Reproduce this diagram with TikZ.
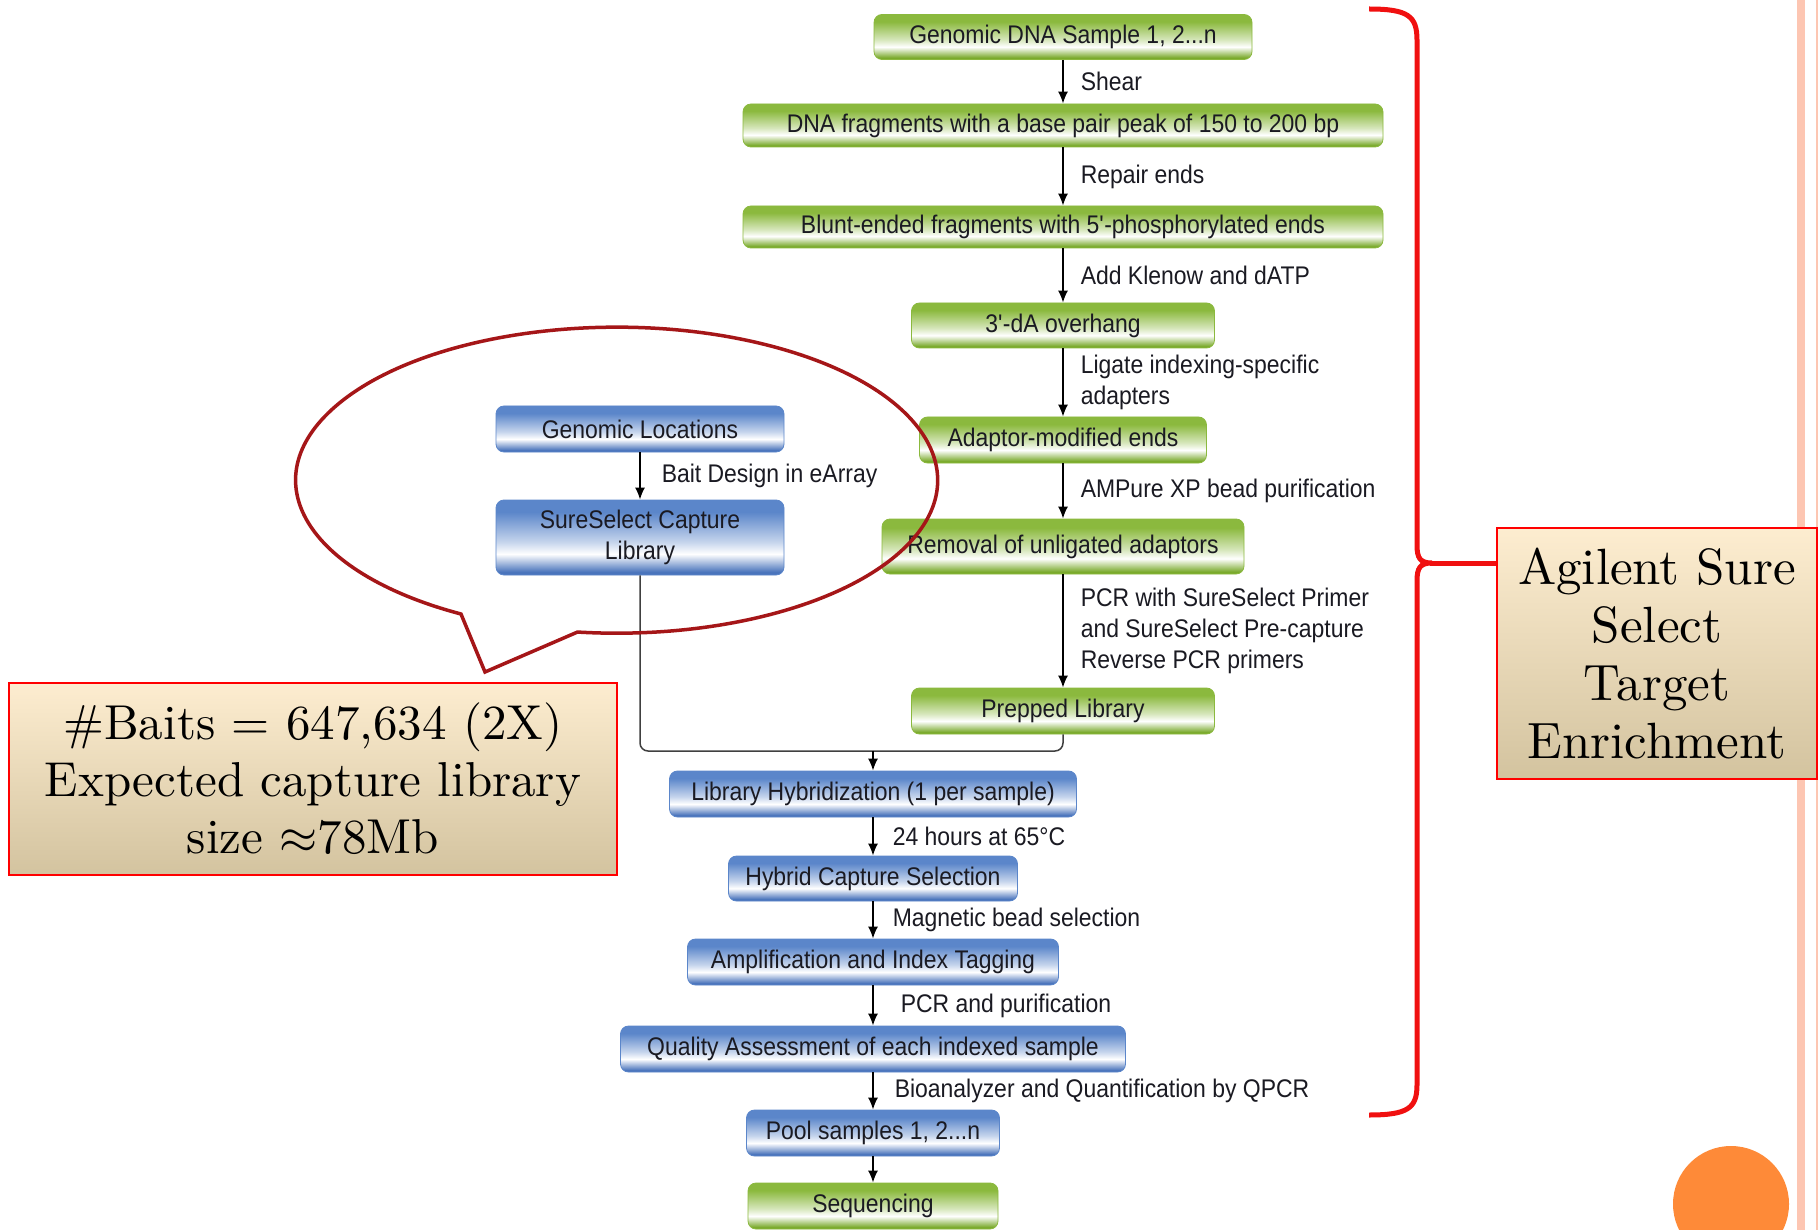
\documentclass[tikz,border=0pt]{standalone}
\usepackage{fontspec}
\newfontfamily\flowfont[FakeStretch=0.9]{Liberation Sans}
\newfontfamily\notefont{lmroman10-regular.otf}
\usetikzlibrary{arrows.meta}
% scalable symbol font for the large approx sign
\DeclareFontShape{OMS}{cmsy}{m}{n}{<-6>cmsy5<6-8>cmsy7<8->cmsy10}{}

\definecolor{gtop}{HTML}{8BB93E}
\definecolor{gbot}{HTML}{7AAA2C}
\colorlet{glight}{gtop!35!white}
\definecolor{btop}{HTML}{5B86CA}
\definecolor{bbot}{HTML}{4A74BC}
\colorlet{blight}{btop!35!white}
\definecolor{txt}{HTML}{1A1A22}
\definecolor{bubblered}{HTML}{A51618}
\definecolor{bracered}{HTML}{F01010}
\definecolor{notetop}{HTML}{FDEDD0}
\definecolor{notemid}{HTML}{F0EADA}
\definecolor{notebot}{HTML}{D3C39F}
\definecolor{pagebar}{HTML}{FDC6B2}
\definecolor{dotorange}{HTML}{FE8A38}

\pgfdeclareverticalshading{greenbar}{100bp}{color(0bp)=(gbot); color(27bp)=(gbot); color(39bp)=(white); color(47bp)=(glight); color(67bp)=(gtop); color(100bp)=(gtop)}
\pgfdeclareverticalshading{bluebar}{100bp}{color(0bp)=(bbot); color(27bp)=(bbot); color(39bp)=(white); color(47bp)=(blight); color(67bp)=(btop); color(100bp)=(btop)}

\tikzset{
  stepbox/.style={rounded corners=8pt, inner sep=0pt, minimum height=45pt, text=txt, align=center,
    font={\flowfont\fontsize{25.5}{31}\selectfont}},
  greenbox/.style={stepbox, shade, shading=greenbar, draw=gtop, line width=0.8pt},
  bluebox/.style={stepbox, shade, shading=bluebar, draw=btop, line width=0.8pt},
  flow/.style={-{Latex[length=12pt,width=10pt]}, line width=1.5pt, black},
  mergeline/.style={line width=1.5pt, black!75, rounded corners=8pt},
  steplabel/.style={right, xshift=17pt, inner sep=0pt, text=txt, align=left,
    font={\flowfont\fontsize{25.5}{31}\selectfont}},
  notebox/.style={draw=red, line width=2pt, top color=notetop, middle color=notemid, bottom color=notebot,
    align=center, inner sep=0pt, font={\notefont\fontsize{49}{57}\selectfont}}
}

\begin{document}
\begin{tikzpicture}[x=1pt,y=-1pt]
	\useasboundingbox (0,0) rectangle (1818,1230);
	\clip (0,0) rectangle (1818,1230);
	\fill[white] (0,0) rectangle (1818,1230);
	% page border on the right
	\fill[pagebar] (1797,0) rectangle (1805,1230);
	\draw[pagebar, line width=1.5pt] (1817,0) -- (1817,1230);

	% library preparation
	\node[greenbox, minimum width=378pt] (g1) at (1063,37) {Genomic DNA Sample 1, 2...n};
	\node[greenbox, minimum width=640pt, minimum height=43pt] (g2) at (1063,125.5) {DNA fragments with a base pair peak of 150 to 200 bp};
	\node[greenbox, minimum width=640pt, minimum height=42pt] (g3) at (1063,227) {Blunt-ended fragments with 5\textquotesingle-phosphorylated ends};
	\node[greenbox, minimum width=303pt] (g4) at (1063,325.5) {3\textquotesingle-dA overhang};
	\node[greenbox, minimum width=287pt, minimum height=46pt] (g5) at (1063,440) {Adaptor-modified ends};
	\node[greenbox, minimum width=362pt, minimum height=55pt] (g6) at (1063,546.5) {Removal of unligated adaptors};
	\node[greenbox, minimum width=303pt, minimum height=46pt] (g7) at (1063,711) {Prepped Library};

	\draw[flow] (g1) -- (g2) node[steplabel, midway]{Shear};
	\draw[flow] (g2) -- (g3) node[steplabel, midway]{Repair ends};
	\draw[flow] (g3) -- (g4) node[steplabel, midway]{Add Klenow and dATP};
	\draw[flow] (g4) -- (g5) node[steplabel, midway]{Ligate indexing-specific\\adapters};
	\draw[flow] (g5) -- (g6) node[steplabel, midway]{AMPure XP bead purification};
	\draw[flow] (g6) -- (g7) node[steplabel, midway]{PCR with SureSelect Primer\\and SureSelect Pre-capture\\Reverse PCR primers};

	% bait design
	\node[bluebox, minimum width=288pt, minimum height=46pt] (b1) at (640,429) {Genomic Locations};
	\node[bluebox, minimum width=288pt, minimum height=75pt] (b2) at (640,537.5) {SureSelect Capture\\Library};
	\draw[flow] (b1) -- (b2) node[steplabel, midway, xshift=4pt]{Bait Design in eArray};

	% capture and sequencing
	\node[bluebox, minimum width=407pt, minimum height=46pt] (b3) at (873,794) {Library Hybridization (1 per sample)};
	\node[bluebox, minimum width=289pt] (b4) at (873,878.5) {Hybrid Capture Selection};
	\node[bluebox, minimum width=371pt, minimum height=46pt] (b5) at (873,962) {Amplification and Index Tagging};
	\node[bluebox, minimum width=505pt, minimum height=46pt] (b6) at (873,1049) {Quality Assessment of each indexed sample};
	\node[bluebox, minimum width=253pt, minimum height=46pt] (b7) at (873,1133) {Pool samples 1, 2...n};
	\node[greenbox, minimum width=250pt, minimum height=46pt] (g8) at (873,1206) {Sequencing};

	\coordinate (join) at (873,751);
	\draw[mergeline] (b2.south) |- (join);
	\draw[mergeline] (g7.south) |- (join);
	\draw[flow] (join) -- (b3.north);
	\draw[flow] (b3) -- (b4) node[steplabel, midway, xshift=2pt]{24 hours at 65°C};
	\draw[flow] (b4) -- (b5) node[steplabel, midway, xshift=2pt]{Magnetic bead selection};
	\draw[flow] (b5) -- (b6) node[steplabel, midway, xshift=10pt]{PCR and purification};
	\draw[flow] (b6) -- (b7) node[steplabel, midway, xshift=4pt]{Bioanalyzer and Quantification by QPCR};
	\draw[flow] (b7) -- (g8);

	% speech bubble round the bait design
	\draw[bubblered, line width=3.5pt, line join=miter] (485,672) -- (461,614)
		arc[start angle=119, end angle=457, x radius=321, y radius=153] -- cycle;

	% brace over the whole workflow
	\draw[bracered, line width=5pt] (1369,9) .. controls (1408,9) and (1417,16) .. (1417,40) -- (1417,545)
		.. controls (1417,558) and (1420,563) .. (1432,563)
		.. controls (1420,563) and (1417,568) .. (1417,581) -- (1417,1085)
		.. controls (1417,1108) and (1408,1115) .. (1369,1115);

	\node[notebox, minimum width=608pt, minimum height=192pt] (baits) at (313,779)
		{\#Baits = 647,634 (2X)\\Expected capture library\\size $\approx$78Mb};
	\node[notebox, minimum width=320pt, minimum height=251pt, font={\notefont\fontsize{51}{58}\selectfont}] (agilent) at (1657,653.5)
		{Agilent Sure\\Select\\Target\\Enrichment};
	\draw[bracered, line width=5pt] (1430,563) -- (agilent.west |- 0,563);

	\fill[dotorange] (1731,1204) circle[radius=58];
\end{tikzpicture}
\end{document}
